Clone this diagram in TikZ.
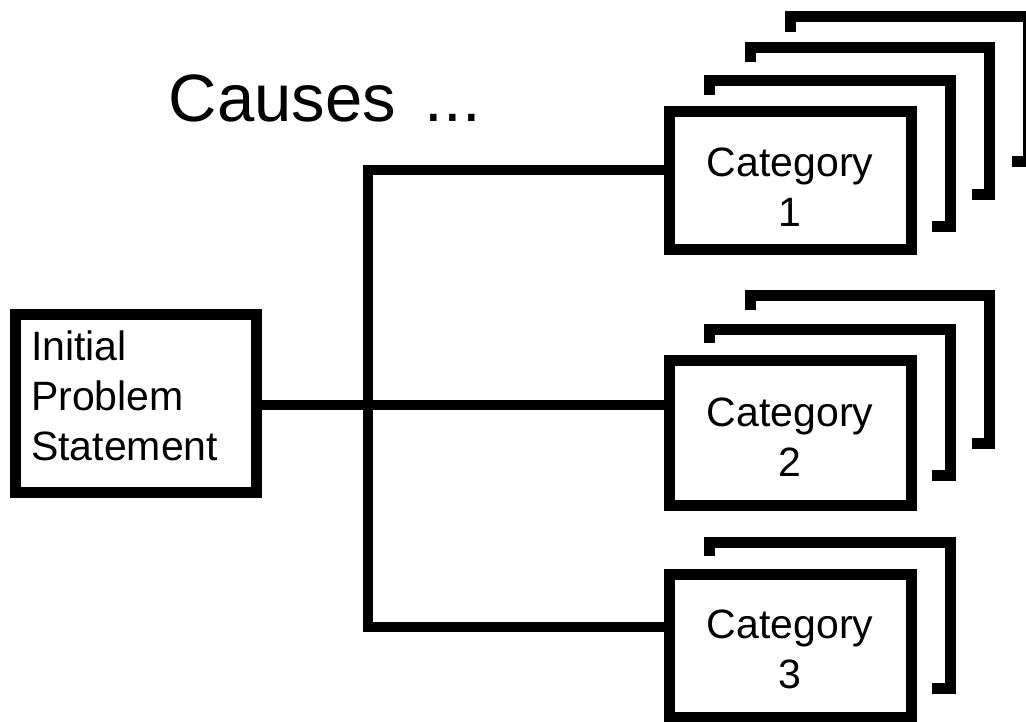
\documentclass[tikz,border=0pt]{standalone}
\usepackage{fontspec}
\setmainfont{Liberation Sans}
\begin{document}
\begin{tikzpicture}[x=1pt,y=-1pt,
  frontbox/.style={draw, line width=11pt, fill=white, minimum width=242pt,
                   inner sep=0pt, outer sep=0pt},
  backcard/.style={draw, line width=11pt, line cap=butt, line join=miter},
  link/.style={draw, line width=10.5pt, line cap=butt, line join=miter},
  boxtext/.style={font=\fontsize{41}{50}\selectfont, inner sep=0pt, anchor=base},
  leftext/.style={font=\fontsize{41}{50}\selectfont, inner sep=0pt, anchor=base west},
  titletext/.style={font=\fontsize{67}{80}\selectfont, inner sep=0pt, anchor=base west}]
\useasboundingbox (0,0) rectangle (1026,722);
\clip (0,0) rectangle (1026,722);

% title
\node[titletext] (causes) at (168.5,122) {Causes\hspace{29pt}...};

% stacked cards behind category 1
\draw[backcard] (790,32)  -- (790,17) -- (1028,17) -- (1028,162) -- (1012,162);
\draw[backcard] (750,62)  -- (750,48) -- (989,48)  -- (989,195)  -- (972,195);
\draw[backcard] (709,95)  -- (709,81) -- (950,81)  -- (950,227)  -- (932,227);
% stacked cards behind category 2
\draw[backcard] (750,310) -- (750,296) -- (989,296) -- (989,443) -- (972,443);
\draw[backcard] (709,343) -- (709,329) -- (950,329) -- (950,475) -- (932,475);
% stacked card behind category 3
\draw[backcard] (709,556) -- (709,542) -- (950,542) -- (950,688) -- (932,688);

% front boxes
\node[frontbox, minimum height=138pt] (c1) at (790,181) {};
\node[frontbox, minimum height=144.5pt] (c2) at (790,432.75) {};
\node[frontbox, minimum height=142.5pt] (c3) at (790,645.75) {};
\node[frontbox, minimum width=240.5pt, minimum height=178.5pt] (init) at (135.75,403.25) {};

% box labels
\node[boxtext] (c1a) at (790,177) {Category};
\node[boxtext] (c1b) at (790,227) {1};
\node[boxtext] (c2a) at (790,426) {Category};
\node[boxtext] (c2b) at (790,476) {2};
\node[boxtext] (c3a) at (790,638) {Category};
\node[boxtext] (c3b) at (790,688) {3};
\node[leftext] (p1) at (31,360) {Initial};
\node[leftext] (p2) at (31,410) {Problem};
\node[leftext] (p3) at (31,460) {Statement};

% connectors
\coordinate (j1) at (368,170);
\coordinate (j2) at (368,405);
\coordinate (j3) at (368,627);
\draw[link] (c1.west |- j1) -- (j1) -- (j3) -- (c3.west |- j3);
\draw[link] (init.east |- j2) -- (c2.west |- j2);
\end{tikzpicture}
\end{document}
